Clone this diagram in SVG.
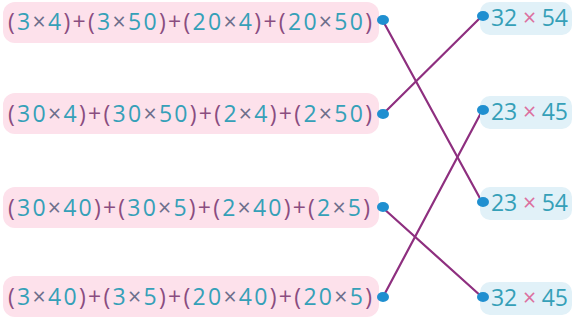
<svg xmlns="http://www.w3.org/2000/svg" width="581" height="326" viewBox="0 0 581 326">
<style>
.bg{fill:#ffffff}
.lbox{fill:#fde1eb}
.rbox{fill:#e1f1f8}
.t{font-family:"Open Sans","Liberation Sans",sans-serif;font-size:23px;fill:#35a0b8}
.p{fill:#8a4d80}
.x{fill:#6d6f8c}
.rx{fill:#dc6f9f}
.dot{fill:#1f8fd0}
.con{stroke:#8e2f7f;stroke-width:2.2;fill:none;stroke-linecap:round}
</style>
<rect class="bg" x="0" y="0" width="581" height="326"/>
<g id="connectors">
<line class="con" x1="383" y1="21" x2="482" y2="202"/>
<line class="con" x1="383" y1="114" x2="482" y2="16"/>
<line class="con" x1="383" y1="208" x2="482" y2="297"/>
<line class="con" x1="383" y1="297" x2="482" y2="111"/>
</g>
<g id="L1">
<rect class="lbox" x="3" y="2" width="376" height="41" rx="12"/>
<text class="t" x="8" y="30" textLength="364" lengthAdjust="spacing"><tspan class="p">(</tspan>3<tspan class="x">×</tspan>4<tspan class="p">)+(</tspan>3<tspan class="x">×</tspan>50<tspan class="p">)+(</tspan>20<tspan class="x">×</tspan>4<tspan class="p">)+(</tspan>20<tspan class="x">×</tspan>50<tspan class="p">)</tspan></text>
<ellipse class="dot" cx="383" cy="20" rx="6" ry="5"/>
</g>
<g id="L2">
<rect class="lbox" x="3" y="93" width="376" height="41" rx="12"/>
<text class="t" x="8" y="122" textLength="364" lengthAdjust="spacing"><tspan class="p">(</tspan>30<tspan class="x">×</tspan>4<tspan class="p">)+(</tspan>30<tspan class="x">×</tspan>50<tspan class="p">)+(</tspan>2<tspan class="x">×</tspan>4<tspan class="p">)+(</tspan>2<tspan class="x">×</tspan>50<tspan class="p">)</tspan></text>
<ellipse class="dot" cx="383" cy="114" rx="6" ry="5"/>
</g>
<g id="L3">
<rect class="lbox" x="3" y="187" width="376" height="41" rx="12"/>
<text class="t" x="8" y="216" textLength="362" lengthAdjust="spacing"><tspan class="p">(</tspan>30<tspan class="x">×</tspan>40<tspan class="p">)+(</tspan>30<tspan class="x">×</tspan>5<tspan class="p">)+(</tspan>2<tspan class="x">×</tspan>40<tspan class="p">)+(</tspan>2<tspan class="x">×</tspan>5<tspan class="p">)</tspan></text>
<ellipse class="dot" cx="383" cy="207" rx="6" ry="5"/>
</g>
<g id="L4">
<rect class="lbox" x="3" y="276" width="376" height="41" rx="12"/>
<text class="t" x="8" y="305" textLength="364" lengthAdjust="spacing"><tspan class="p">(</tspan>3<tspan class="x">×</tspan>40<tspan class="p">)+(</tspan>3<tspan class="x">×</tspan>5<tspan class="p">)+(</tspan>20<tspan class="x">×</tspan>40<tspan class="p">)+(</tspan>20<tspan class="x">×</tspan>5<tspan class="p">)</tspan></text>
<ellipse class="dot" cx="383" cy="297" rx="6" ry="5"/>
</g>
<g id="R1">
<rect class="rbox" x="480" y="2" width="92" height="33" rx="10"/>
<text class="t" x="491" y="26" textLength="77" lengthAdjust="spacing">32 <tspan class="rx">×</tspan> 54</text>
<ellipse class="dot" cx="483" cy="16" rx="6" ry="5"/>
</g>
<g id="R2">
<rect class="rbox" x="480" y="96" width="92" height="33" rx="10"/>
<text class="t" x="491" y="120" textLength="77" lengthAdjust="spacing">23 <tspan class="rx">×</tspan> 45</text>
<ellipse class="dot" cx="483" cy="110" rx="6" ry="5"/>
</g>
<g id="R3">
<rect class="rbox" x="480" y="187" width="92" height="33" rx="10"/>
<text class="t" x="491" y="211" textLength="77" lengthAdjust="spacing">23 <tspan class="rx">×</tspan> 54</text>
<ellipse class="dot" cx="483" cy="202" rx="6" ry="5"/>
</g>
<g id="R4">
<rect class="rbox" x="480" y="282" width="92" height="33" rx="10"/>
<text class="t" x="491" y="306" textLength="77" lengthAdjust="spacing">32 <tspan class="rx">×</tspan> 45</text>
<ellipse class="dot" cx="483" cy="297" rx="6" ry="5"/>
</g>
</svg>
